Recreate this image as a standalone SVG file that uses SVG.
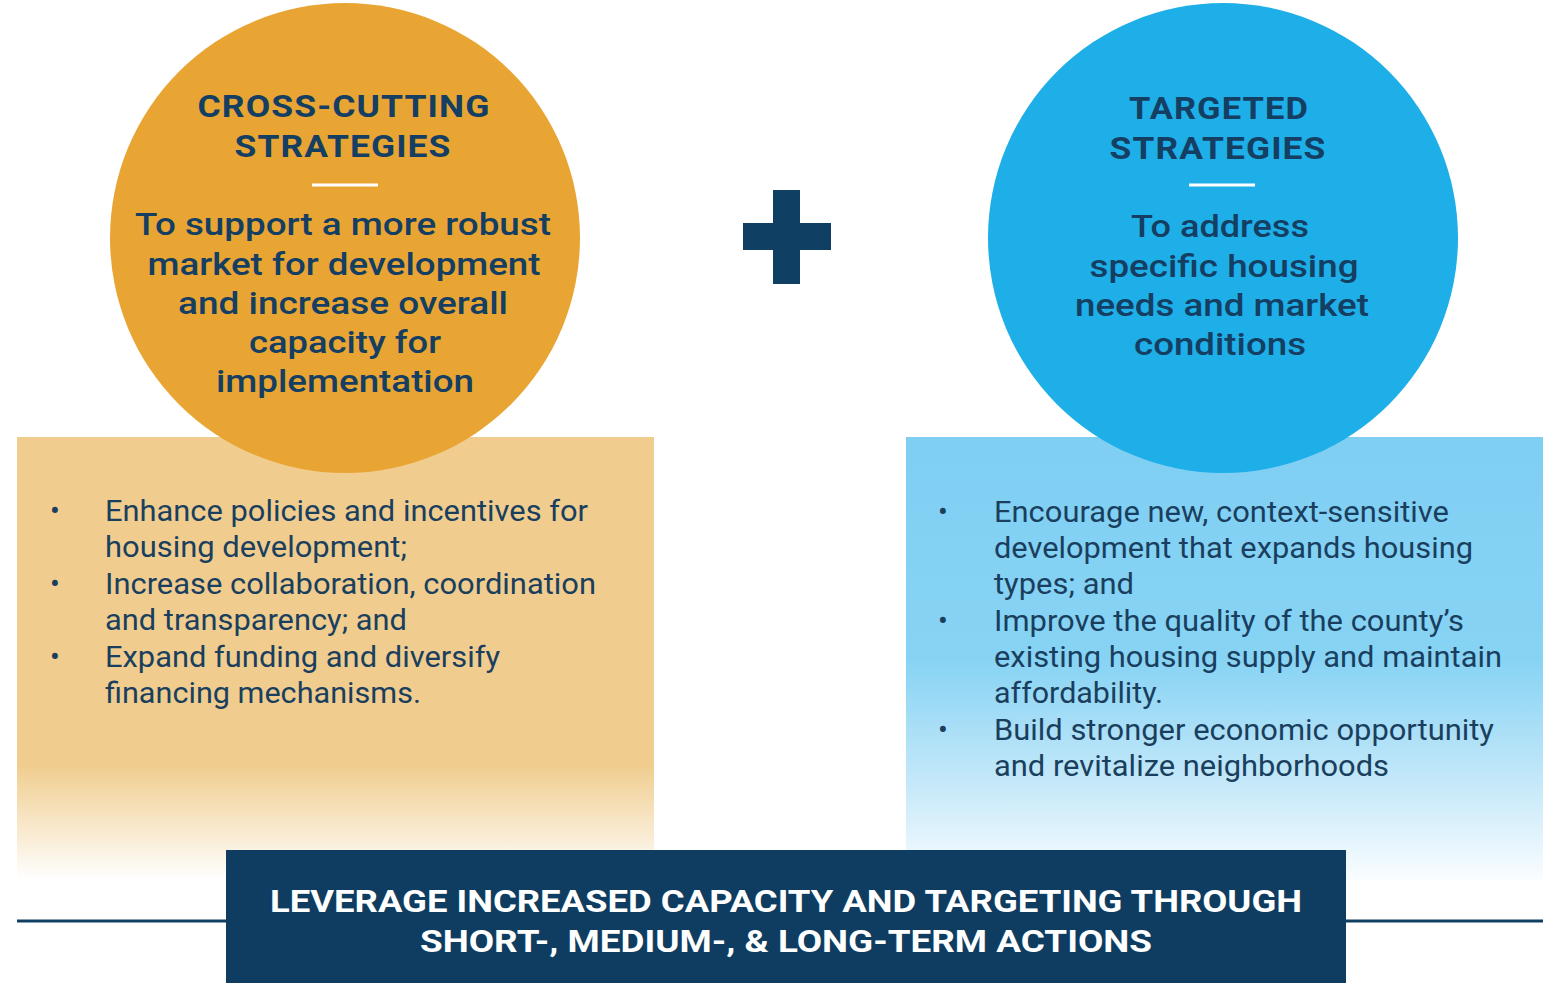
<svg xmlns="http://www.w3.org/2000/svg" width="1552" height="983" viewBox="0 0 1552 983">
<style>
.t{font-family:Roboto,"Liberation Sans",sans-serif;fill:#143E62;text-anchor:middle}
.h{font-weight:700;font-size:32px;letter-spacing:1px}
.s{font-weight:500;font-size:31px}
.b{font-family:Roboto,"Liberation Sans",sans-serif;fill:#1A3F5E;font-size:29px;font-weight:400}
.bn{font-family:Roboto,"Liberation Sans",sans-serif;fill:#FFFFFF;font-size:32px;font-weight:700;text-anchor:middle}
.dash{stroke:#FFFFFF;stroke-width:3}
</style>
<defs>
<linearGradient id="gL" x1="0" y1="0" x2="0" y2="1">
<stop offset="0" stop-color="#F0CD8E"/>
<stop offset="0.74" stop-color="#F0CD8E"/>
<stop offset="1" stop-color="#FFFFFF"/>
</linearGradient>
<linearGradient id="gR" x1="0" y1="0" x2="0" y2="1">
<stop offset="0" stop-color="#7FCFF3"/>
<stop offset="0.5" stop-color="#87D3F4"/>
<stop offset="0.78" stop-color="#C4E8F9"/>
<stop offset="1" stop-color="#FAFDFF"/>
</linearGradient>
</defs>
<rect width="1552" height="983" fill="#FFFFFF"/>

<g id="left-box">
<rect x="17" y="437" width="637" height="443" fill="url(#gL)"/>
<g class="b">
<text x="50" y="521">•</text>
<text x="105" y="521" textLength="483" lengthAdjust="spacingAndGlyphs">Enhance policies and incentives for</text>
<text x="105" y="557" textLength="302" lengthAdjust="spacingAndGlyphs">housing development;</text>
<text x="50" y="594">•</text>
<text x="105" y="594" textLength="491" lengthAdjust="spacingAndGlyphs">Increase collaboration, coordination</text>
<text x="105" y="630" textLength="302" lengthAdjust="spacingAndGlyphs">and transparency; and</text>
<text x="50" y="667">•</text>
<text x="105" y="667" textLength="395" lengthAdjust="spacingAndGlyphs">Expand funding and diversify</text>
<text x="105" y="703" textLength="316" lengthAdjust="spacingAndGlyphs">financing mechanisms.</text>
</g>
</g>

<g id="right-box">
<rect x="906" y="437" width="637" height="443" fill="url(#gR)"/>
<g class="b">
<text x="938" y="522">•</text>
<text x="994" y="522" textLength="455" lengthAdjust="spacingAndGlyphs">Encourage new, context-sensitive</text>
<text x="994" y="558" textLength="479" lengthAdjust="spacingAndGlyphs">development that expands housing</text>
<text x="994" y="594" textLength="140" lengthAdjust="spacingAndGlyphs">types; and</text>
<text x="938" y="631">•</text>
<text x="994" y="631" textLength="470" lengthAdjust="spacingAndGlyphs">Improve the quality of the county’s</text>
<text x="994" y="667" textLength="508" lengthAdjust="spacingAndGlyphs">existing housing supply and maintain</text>
<text x="994" y="703" textLength="169" lengthAdjust="spacingAndGlyphs">affordability.</text>
<text x="938" y="740">•</text>
<text x="994" y="740" textLength="500" lengthAdjust="spacingAndGlyphs">Build stronger economic opportunity</text>
<text x="994" y="776" textLength="395" lengthAdjust="spacingAndGlyphs">and revitalize neighborhoods</text>
</g>
</g>

<g id="cross-cutting">
<circle cx="345" cy="238" r="235" fill="#E8A533"/>
<text class="t h" x="344" y="117" textLength="293" lengthAdjust="spacingAndGlyphs">CROSS-CUTTING</text>
<text class="t h" x="343" y="157" textLength="217" lengthAdjust="spacingAndGlyphs">STRATEGIES</text>
<line class="dash" x1="312" y1="185" x2="378" y2="185"/>
<text class="t s" x="343" y="235" textLength="416" lengthAdjust="spacingAndGlyphs">To support a more robust</text>
<text class="t s" x="344" y="275" textLength="393" lengthAdjust="spacingAndGlyphs">market for development</text>
<text class="t s" x="343" y="314" textLength="330" lengthAdjust="spacingAndGlyphs">and increase overall</text>
<text class="t s" x="345" y="353" textLength="192" lengthAdjust="spacingAndGlyphs">capacity for</text>
<text class="t s" x="345" y="392" textLength="258" lengthAdjust="spacingAndGlyphs">implementation</text>
</g>

<g id="plus">
<rect x="743" y="223" width="88" height="27" fill="#0F3F63"/>
<rect x="773" y="190" width="27" height="94" fill="#0F3F63"/>
</g>

<g id="targeted">
<circle cx="1223" cy="238" r="235" fill="#1EAEE8"/>
<text class="t h" x="1219" y="119" textLength="180" lengthAdjust="spacingAndGlyphs">TARGETED</text>
<text class="t h" x="1218" y="159" textLength="217" lengthAdjust="spacingAndGlyphs">STRATEGIES</text>
<line class="dash" x1="1189" y1="185" x2="1255" y2="185"/>
<text class="t s" x="1220" y="237" textLength="178" lengthAdjust="spacingAndGlyphs">To address</text>
<text class="t s" x="1224" y="277" textLength="269" lengthAdjust="spacingAndGlyphs">specific housing</text>
<text class="t s" x="1222" y="316" textLength="294" lengthAdjust="spacingAndGlyphs">needs and market</text>
<text class="t s" x="1220" y="355" textLength="172" lengthAdjust="spacingAndGlyphs">conditions</text>
</g>

<g id="connectors">
<line x1="17" y1="921" x2="1543" y2="921" stroke="#0F3F63" stroke-width="3"/>
</g>

<g id="banner">
<rect x="226" y="850" width="1120" height="133" fill="#0E3D61"/>
<text class="bn" x="786" y="912" textLength="1032" lengthAdjust="spacingAndGlyphs">LEVERAGE INCREASED CAPACITY AND TARGETING THROUGH</text>
<text class="bn" x="786" y="952" textLength="732" lengthAdjust="spacingAndGlyphs">SHORT-, MEDIUM-, &amp; LONG-TERM ACTIONS</text>
</g>
</svg>
